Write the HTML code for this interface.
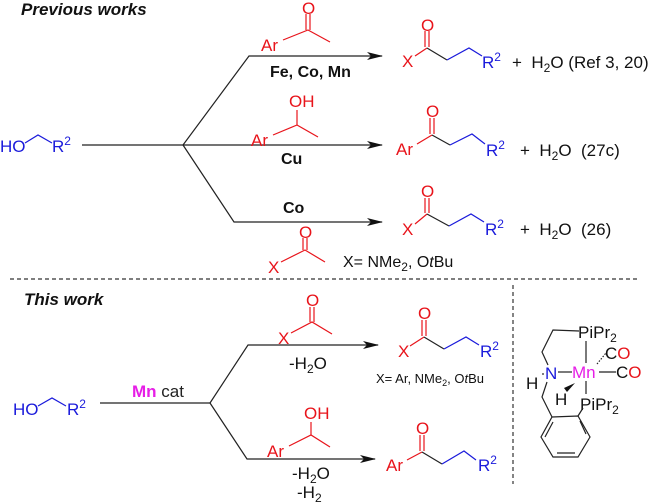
<!DOCTYPE html>
<html><head><meta charset="utf-8"><style>
html,body{margin:0;padding:0;background:#fff}
svg{display:block}
text{font-family:"Liberation Sans",sans-serif;font-size:17px}
.r{fill:#e8141b}.b{fill:#1a1adb}.k{fill:#111}
.lr{stroke:#e8141b}.lb{stroke:#1a1adb}.lk{stroke:#222}
line,polyline{fill:none;stroke-width:1.2}
.bd{font-weight:bold;font-size:16px}
.s{font-size:12px}
</style></head><body>
<svg width="652" height="504" viewBox="0 0 652 504" xmlns="http://www.w3.org/2000/svg">
<defs><marker id="a" markerWidth="16" markerHeight="8" refX="15" refY="4" orient="auto" markerUnits="userSpaceOnUse"><path d="M0,0 L16,4 L0,8 L4,4 z" style="fill:#111;stroke:none"/></marker></defs>

<text x="21" y="15" class="k" style="font-weight:bold;font-style:italic;font-size:17px">Previous works</text>

<text x="0" y="152" class="b">HO</text>
<polyline class="lb" points="25,143 38,135 52,143"/>
<text x="52" y="152" class="b">R<tspan class="s" dy="-7">2</tspan></text>
<line class="lk" x1="82" y1="145" x2="183" y2="145"/>
<polyline class="lk" points="183,145 249,56 382,56" marker-end="url(#a)"/>
<line class="lk" x1="183" y1="145" x2="382" y2="145" marker-end="url(#a)"/>
<polyline class="lk" points="183,145 234,222 382,222" marker-end="url(#a)"/>
<text x="270" y="77" class="k bd">Fe, Co, Mn</text>
<text x="281" y="164" class="k bd">Cu</text>
<text x="283" y="213" class="k bd">Co</text>

<text x="261" y="51" class="r">Ar</text>
<polyline class="lr" points="283,40 308,30 330,42"/>
<line class="lr" x1="306" y1="30" x2="306" y2="14"/><line class="lr" x1="310" y1="30" x2="310" y2="14"/>
<text x="302" y="14" class="r">O</text>
<text x="251" y="146" class="r">Ar</text>
<polyline class="lr" points="273,135 297,125 318,137"/>
<line class="lr" x1="297" y1="125" x2="297" y2="110"/>
<text x="289" y="107" class="r">OH</text>
<text x="268" y="273" class="r">X</text>
<polyline class="lr" points="281,262 305,250 325,262"/>
<line class="lr" x1="303" y1="250" x2="303" y2="238"/><line class="lr" x1="307" y1="250" x2="307" y2="238"/>
<text x="299" y="238" class="r">O</text>
<text x="343" y="267" class="k" style="font-size:16px">X= NMe<tspan class="s" dy="4">2</tspan><tspan dy="-4">, O</tspan><tspan style="font-style:italic">t</tspan>Bu</text>

<text x="402" y="67" class="r">X</text>
<polyline class="lr" points="415,56 427,48"/>
<polyline class="lk" points="427,48 447,60"/>
<polyline class="lb" points="447,60 469,48 482,56"/>
<line class="lr" x1="425" y1="47" x2="425" y2="31"/><line class="lr" x1="429" y1="47" x2="429" y2="31"/>
<text x="421" y="31" class="r">O</text>
<text x="482" y="68" class="b">R<tspan class="s" dy="-7">2</tspan></text>
<text x="512" y="68" class="k">+&#160; H<tspan class="s" dy="4">2</tspan><tspan dy="-4">O (Ref 3, 20)</tspan></text>

<text x="396" y="155" class="r">Ar</text>
<polyline class="lr" points="417,144 432,135"/>
<polyline class="lk" points="432,135 450,145"/>
<polyline class="lb" points="450,145 472,134 485,144"/>
<line class="lr" x1="430" y1="134" x2="430" y2="118"/><line class="lr" x1="434" y1="134" x2="434" y2="118"/>
<text x="426" y="117" class="r">O</text>
<text x="486" y="156" class="b">R<tspan class="s" dy="-7">2</tspan></text>
<text x="520" y="156" class="k">+&#160; H<tspan class="s" dy="4">2</tspan><tspan dy="-4">O&#160; (27c)</tspan></text>

<text x="402" y="235" class="r">X</text>
<polyline class="lr" points="415,224 427,214"/>
<polyline class="lk" points="427,214 449,226"/>
<polyline class="lb" points="449,226 471,214 484,222"/>
<line class="lr" x1="425" y1="213" x2="425" y2="198"/><line class="lr" x1="429" y1="213" x2="429" y2="198"/>
<text x="421" y="197" class="r">O</text>
<text x="485" y="235" class="b">R<tspan class="s" dy="-7">2</tspan></text>
<text x="520" y="235" class="k">+&#160; H<tspan class="s" dy="4">2</tspan><tspan dy="-4">O&#160; (26)</tspan></text>

<line x1="10" y1="279" x2="640" y2="279" stroke="#333" stroke-width="1" stroke-dasharray="4,3"/>
<line x1="513" y1="285" x2="513" y2="484" stroke="#333" stroke-width="1" stroke-dasharray="4,3"/>

<text x="24" y="305" class="k" style="font-weight:bold;font-style:italic;font-size:17px">This work</text>
<text x="13" y="415" class="b">HO</text>
<polyline class="lb" points="38,406 52,398 66,406"/>
<text x="67" y="415" class="b">R<tspan class="s" dy="-7">2</tspan></text>
<line class="lk" x1="100" y1="403" x2="210" y2="403"/>
<text x="132" y="397"><tspan style="fill:#e61ee6;font-weight:bold">Mn</tspan><tspan style="fill:#222"> cat</tspan></text>
<polyline class="lk" points="210,403 248,345 378,345" marker-end="url(#a)"/>
<polyline class="lk" points="210,403 247,459 375,459" marker-end="url(#a)"/>

<text x="278" y="344" class="r">X</text>
<polyline class="lr" points="291,333 312,322 332,334"/>
<line class="lr" x1="310" y1="322" x2="310" y2="307"/><line class="lr" x1="314" y1="322" x2="314" y2="307"/>
<text x="306" y="306" class="r">O</text>
<text x="289" y="369" class="k">-H<tspan class="s" dy="4">2</tspan><tspan dy="-4">O</tspan></text>

<text x="267" y="457" class="r">Ar</text>
<polyline class="lr" points="289,446 311,435 330,447"/>
<line class="lr" x1="311" y1="435" x2="311" y2="422"/>
<text x="304" y="419" class="r">OH</text>
<text x="292" y="479" class="k">-H<tspan class="s" dy="4">2</tspan><tspan dy="-4">O</tspan></text>
<text x="297" y="498" class="k">-H<tspan class="s" dy="4">2</tspan></text>

<text x="398" y="357" class="r">X</text>
<polyline class="lr" points="410,346 424,337"/>
<polyline class="lk" points="424,337 444,349"/>
<polyline class="lb" points="444,349 466,337 479,345"/>
<line class="lr" x1="422" y1="336" x2="422" y2="320"/><line class="lr" x1="426" y1="336" x2="426" y2="320"/>
<text x="418" y="319" class="r">O</text>
<text x="480" y="357" class="b">R<tspan class="s" dy="-7">2</tspan></text>
<text x="376" y="383" class="k" style="font-size:13px">X= Ar, NMe<tspan style="font-size:9px" dy="3">2</tspan><tspan dy="-3">, O</tspan><tspan style="font-style:italic">t</tspan>Bu</text>

<text x="386" y="471" class="r">Ar</text>
<polyline class="lr" points="407,460 422,452"/>
<polyline class="lk" points="422,452 442,464"/>
<polyline class="lb" points="442,464 464,451 476,460"/>
<line class="lr" x1="420" y1="451" x2="420" y2="435"/><line class="lr" x1="424" y1="451" x2="424" y2="435"/>
<text x="416" y="434" class="r">O</text>
<text x="478" y="471" class="b">R<tspan class="s" dy="-7">2</tspan></text>

<polyline class="lk" points="579,331 553,330 542,352 548,365"/>
<text x="578" y="338" class="k">PiPr<tspan class="s" dy="4">2</tspan></text>
<line class="lk" x1="586" y1="341" x2="586" y2="363"/>
<text x="545" y="379" class="b">N</text>
<line class="lk" x1="558" y1="372" x2="572" y2="372"/>
<text x="572" y="378" style="fill:#e61ee6">Mn</text>
<line class="lk" x1="599" y1="372" x2="616" y2="372"/>
<text x="616" y="378" class="k">C<tspan style="fill:#e8141b">O</tspan></text>
<line x1="597" y1="364" x2="606" y2="353" stroke="#222" stroke-width="1.6" stroke-dasharray="1.5,1.5"/>
<text x="605" y="359" class="k">C<tspan style="fill:#e8141b">O</tspan></text>
<text x="526" y="389" class="k">H</text>
<circle cx="543" cy="374" r="0.9" fill="#222"/>
<path d="M575,383 L564,388 L567,392 z" style="fill:#111;stroke:none"/>
<text x="555" y="405" class="k">H</text>
<line class="lk" x1="586" y1="381" x2="586" y2="394"/>
<text x="580" y="410" class="k">PiPr<tspan class="s" dy="4">2</tspan></text>
<polyline class="lk" points="547,382 542,397 552,417"/>
<polygon points="552,417 578,416 590,437 578,457 553,457 541,437" style="fill:none;stroke:#222;stroke-width:1.2"/>
<line class="lk" x1="553" y1="422" x2="545" y2="437"/>
<line class="lk" x1="557" y1="453" x2="575" y2="453"/>
<line class="lk" x1="580" y1="421" x2="586" y2="434"/>
<line class="lk" x1="578" y1="416" x2="583" y2="408"/>
</svg>
</body></html>
